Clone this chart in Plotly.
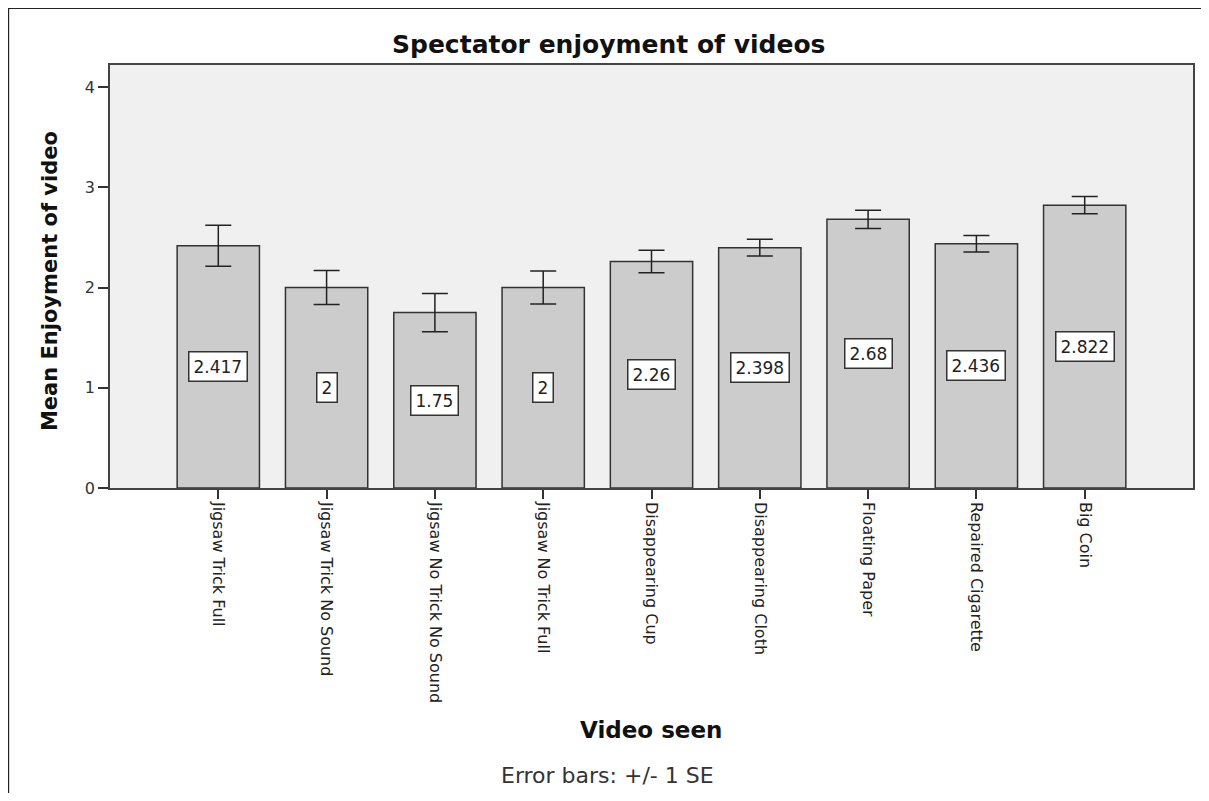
import plotly.graph_objects as go

categories = ["Jigsaw Trick Full", "Jigsaw Trick No Sound", "Jigsaw No Trick No Sound",
              "Jigsaw No Trick Full", "Disappearing Cup", "Disappearing Cloth",
              "Floating Paper", "Repaired Cigarette", "Big Coin"]
means = [2.417, 2.0, 1.75, 2.0, 2.26, 2.398, 2.68, 2.436, 2.822]
mean_labels = ["2.417", "2", "1.75", "2", "2.26", "2.398", "2.68", "2.436", "2.822"]
se = [0.205, 0.17, 0.19, 0.165, 0.112, 0.083, 0.09, 0.082, 0.085]
y_ticks = [0, 1, 2, 3, 4]

# page body has an 8px margin; work in figure coordinates = screen px - 8
OFF = 8
W, H = 1209 - 2 * OFF, 801 - 2 * OFF
L, R, T, B = 110 - OFF, 1195 - OFF, 65 - OFF, 488 - OFF

FONT = "DejaVu Sans, Verdana, sans-serif"


def px_x(px):
    return (px - OFF - L) / (R - L)


def px_y(py):
    return (B - (py - OFF)) / (B - T)


fig = go.Figure()
fig.add_trace(go.Bar(
    x=list(range(len(categories))), y=means,
    width=0.76,
    marker=dict(color="#cccccc", line=dict(color="#333333", width=1.5)),
    error_y=dict(type="data", array=se, visible=True, color="#222222",
                 thickness=1.5, width=13),
    hoverinfo="skip",
))

for i, (m, lab) in enumerate(zip(means, mean_labels)):
    fig.add_annotation(x=i, y=m / 2, text=lab, showarrow=False,
                       xanchor="center", yanchor="middle",
                       font=dict(family=FONT, size=17, color="#222222"),
                       bgcolor="white", bordercolor="#333333", borderwidth=1.5,
                       borderpad=4)

# outer frame (left, top, right edges of the picture border)
fig.add_shape(type="line", xref="paper", yref="paper",
              x0=px_x(8), x1=px_x(8), y0=px_y(8), y1=px_y(900),
              line=dict(color="#222222", width=2))
fig.add_shape(type="line", xref="paper", yref="paper",
              x0=px_x(8), x1=px_x(1300), y0=px_y(8), y1=px_y(8),
              line=dict(color="#222222", width=2))

fig.add_annotation(xref="paper", yref="paper", x=px_x(609), y=px_y(44),
                   xanchor="center", yanchor="middle",
                   text="<b>Spectator enjoyment of videos</b>", showarrow=False,
                   font=dict(family=FONT, size=25, color="#111111"))
fig.add_annotation(xref="paper", yref="paper", x=px_x(652), y=px_y(730),
                   xanchor="center", yanchor="middle",
                   text="<b>Video seen</b>", showarrow=False,
                   font=dict(family=FONT, size=23, color="#111111"))
fig.add_annotation(xref="paper", yref="paper", x=px_x(608), y=px_y(775),
                   xanchor="center", yanchor="middle",
                   text="Error bars: +/- 1 SE", showarrow=False,
                   font=dict(family=FONT, size=22, color="#333333"))
fig.add_annotation(xref="paper", yref="paper", x=px_x(50), y=px_y(281),
                   xanchor="center", yanchor="middle",
                   text="<b>Mean Enjoyment of video</b>", showarrow=False, textangle=-90,
                   font=dict(family=FONT, size=21, color="#111111"))

fig.update_layout(
    width=W, height=H, autosize=False,
    margin=dict(l=L, r=W - R, t=T, b=H - B),
    paper_bgcolor="white", plot_bgcolor="#f0f0f0",
    showlegend=False,
    xaxis=dict(range=[-1, len(categories)], tickmode="array",
               tickvals=list(range(len(categories))), ticktext=categories,
               tickangle=90, ticks="outside", ticklen=9, tickwidth=1.5, tickcolor="#333333",
               showline=True, linecolor="#444444", linewidth=1.5, mirror=True,
               showgrid=False, zeroline=False,
               tickfont=dict(family=FONT, size=16, color="#222222")),
    yaxis=dict(range=[0, 4.22], tickmode="array", tickvals=y_ticks,
               ticks="outside", ticklen=10, tickwidth=1.5, tickcolor="#333333",
               showline=True, linecolor="#444444", linewidth=1.5, mirror=True,
               showgrid=False, zeroline=False,
               tickfont=dict(family=FONT, size=16, color="#333333")),
)

fig.write_html("out.html")
